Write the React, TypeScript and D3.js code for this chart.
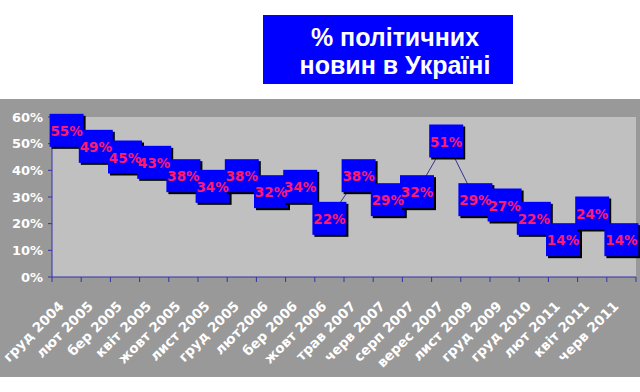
import React from "react";
import * as d3 from "d3";

const categories = [
  "груд 2004", "лют 2005", "бер 2005", "квіт 2005", "жовт 2005", "лист 2005",
  "груд 2005", "лют2006", "бер 2006", "жовт 2006", "трав 2007", "черв 2007",
  "серп 2007", "верес 2007", "лист 2009", "груд 2009", "груд 2010", "лют 2011",
  "квіт 2011", "черв 2011",
];
const values = [55, 49, 45, 43, 38, 34, 38, 32, 34, 22, 38, 29, 32, 51, 29, 27, 22, 14, 24, 14];
const yTicks = [0, 10, 20, 30, 40, 50, 60];
const titleLines = ["% політичних", "новин в Україні"];

export default function App() {
  const W = 640, H = 392;
  const plot = { left: 52, right: 636, top: 117, bottom: 277 };
  const x = d3.scaleBand<string>().domain(categories).range([plot.left, plot.right]);
  const y = d3.scaleLinear().domain([0, 60]).range([plot.bottom, plot.top]);
  const cx = (i: number) => (x(categories[i]) as number) + x.bandwidth() / 2;
  const line = d3.line<number>().x((_, i) => cx(i)).y((d) => y(d));
  const mw = 34, mh = 33;
  const font = "'DejaVu Sans', Verdana, sans-serif";
  return (
    <svg width={W} height={H} style={{ position: "absolute", left: 0, top: 0 }}>
      <rect x={0} y={0} width={W} height={H} fill="#ffffff" />
      {/* title box */}
      <rect x={263} y={15} width={250} height={69} fill="#0000ff" />
      {titleLines.map((t, i) => (
        <text key={i} x={395} y={46 + i * 28} textAnchor="middle" fill="#ffffff"
          fontFamily="'Liberation Sans', Arial, sans-serif" fontWeight="bold" fontSize={25}>{t}</text>
      ))}
      {/* outer gray */}
      <rect x={0} y={99} width={W} height={278} fill="#999999" />
      <rect x={plot.left} y={plot.top} width={plot.right - plot.left} height={plot.bottom - plot.top} fill="#c0c0c0" />
      {/* axes */}
      <line x1={plot.left} x2={plot.left} y1={plot.top} y2={plot.bottom} stroke="#3333aa" strokeWidth={1} />
      <line x1={plot.left} x2={plot.right} y1={plot.bottom} y2={plot.bottom} stroke="#3333aa" strokeWidth={1} />
      {yTicks.map((t) => (
        <g key={t}>
          <line x1={plot.left - 4} x2={plot.left} y1={y(t)} y2={y(t)} stroke="#3333aa" />
          <text x={43} y={y(t)} dy="0.35em" textAnchor="end" fill="#ffffff" fontFamily={font}
            fontWeight="bold" fontSize={13}>{t}%</text>
        </g>
      ))}
      {categories.map((c, i) => {
        const xl = x(c) as number;
        return <line key={"t" + i} x1={xl} x2={xl} y1={plot.bottom} y2={plot.bottom + 5} stroke="#3333aa" />;
      })}
      <line x1={plot.right} x2={plot.right} y1={plot.bottom} y2={plot.bottom + 5} stroke="#3333aa" />
      {categories.map((c, i) => (
        <text key={"l" + i} transform={`translate(${cx(i) - 2},${plot.bottom + 30}) rotate(-45)`}
          textAnchor="end" fill="#ffffff" fontFamily={font} fontWeight="bold" fontSize={13.5}>{c}</text>
      ))}
      {/* line */}
      <path d={line(values) as string} fill="none" stroke="#333399" strokeWidth={1} />
      {/* markers */}
      {values.map((v, i) => (
        <g key={"m" + i}>
          <rect x={cx(i) - mw / 2 + 2} y={y(v) - mh / 2 + 2} width={mw} height={mh} fill="#000000" />
          <rect x={cx(i) - mw / 2} y={y(v) - mh / 2} width={mw} height={mh} fill="#0000ff" />
        </g>
      ))}
      {values.map((v, i) => (
        <text key={"d" + i} x={cx(i)} y={y(v) + 1} dy="0.35em" textAnchor="middle" fill="#ff1a6e"
          fontFamily={font} fontWeight="bold" fontSize={13.5}>{v}%</text>
      ))}
    </svg>
  );
}
